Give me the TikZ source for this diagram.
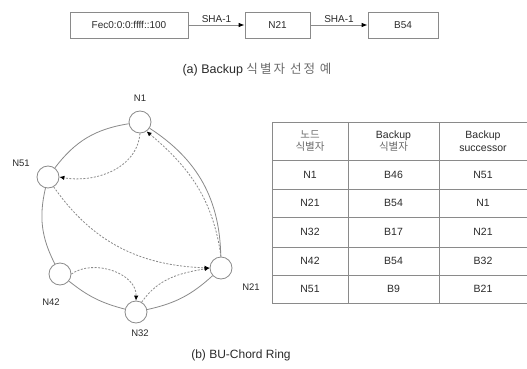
\documentclass[tikz,border=0pt]{standalone}
\usepackage{fontspec}
\setmainfont{Liberation Sans}
\newfontfamily\krfont{Noto Sans CJK KR}
\newcommand{\kr}[1]{{\krfont\color{krc}#1}}
\usetikzlibrary{arrows.meta}
\definecolor{txt}{HTML}{2A2A2A}
\definecolor{krc}{HTML}{6A6A6A}
\definecolor{ln}{HTML}{8A8A8A}
\tikzset{
  every node/.style={text=txt, font=\fontsize{10}{12}\selectfont},
  hbox/.style={draw=ln, line width=0.8pt, minimum height=26pt, inner sep=0pt},
  ringnode/.style={circle, draw=ln, line width=0.8pt, minimum size=22pt, inner sep=0pt},
  ringlabel/.style={font=\fontsize{9.5}{11}\selectfont},
  ringarc/.style={draw=ln, line width=0.8pt},
  succ/.style={draw=ln, line width=0.8pt, dash pattern=on 2pt off 1.5pt, -{Latex[length=5pt,width=4.5pt,color=black]}},
  harrow/.style={draw=ln, line width=0.8pt, -{Latex[length=6pt,width=4.5pt,color=black]}},
  tline/.style={draw=ln, line width=1pt},
  cell/.style={align=center, font=\fontsize{10.5}{12.5}\selectfont},
  caption/.style={font=\fontsize{12}{14}\selectfont}
}
\begin{document}
\begin{tikzpicture}[x=1pt,y=1pt]
\useasboundingbox (0,0) rectangle (527,-369);
% (a) top chain
\node[hbox, minimum width=118pt] (ip) at (129,-25) {Fec0:0:0:ffff::100};
\node[hbox, minimum width=65pt] (n21b) at (277.5,-25) {N21};
\node[hbox, minimum width=70pt] (b54) at (403,-25) {B54};
\draw[harrow] (ip) -- node[above=-1pt] {SHA-1} (n21b);
\draw[harrow] (n21b) -- node[above=-1pt] {SHA-1} (b54);
\node[caption, font=\fontsize{12.5}{14}\selectfont] (capa) at (257,-70) {(a) Backup \kr{식\,별\,자\, 선\,정\, 예}};
% (b) ring
\node[ringnode] (n1) at (140,-122) {};
\node[ringnode] (n51) at (48,-177) {};
\node[ringnode] (n42) at (60,-274) {};
\node[ringnode] (n32) at (136,-312) {};
\node[ringnode] (n21) at (221,-268) {};
\node[ringlabel] (l1) at (140,-98) {N1};
\node[ringlabel] (l51) at (21,-163) {N51};
\node[ringlabel] (l42) at (51,-302) {N42};
\node[ringlabel] (l32) at (140,-333) {N32};
\node[ringlabel] (l21) at (251,-287) {N21};
\draw[ringarc] (n1) to[bend right=22] (n51);
\draw[ringarc] (n51) to[bend right=20] (n42);
\draw[ringarc] (n42) to[bend right=12] (n32);
\draw[ringarc] (n32) to[bend right=15] (n21);
\draw[ringarc] (n21) to[bend right=28] (n1);
\draw[succ] (n1.south) to[out=-95,in=-10] (n51.east);
\draw[succ] (n21.north) to[out=98,in=-40] (n1.-55);
\draw[succ] (n51.-60) to[out=-55,in=178] (n21.west);
\draw[succ] (n42.east) to[out=35,in=88] (n32.north);
\draw[succ] (n32.60) to[out=55,in=190] (n21.west);
\node[caption] (capb) at (241,-355) {(b) BU-Chord Ring};
% table
\draw[tline] (272,-122) -- (527,-122);
\draw[tline] (272,-160) -- (527,-160);
\draw[tline] (272,-189) -- (527,-189);
\draw[tline] (272,-217) -- (527,-217);
\draw[tline] (272,-247) -- (527,-247);
\draw[tline] (272,-275) -- (527,-275);
\draw[tline] (272,-303) -- (527,-303);
\draw[tline] (272,-122) -- (272,-303);
\draw[tline] (348,-122) -- (348,-303);
\draw[tline] (439,-122) -- (439,-303);
\node[cell] (h1) at (310,-141) {\kr{노드}\\\kr{식별자}};
\node[cell] (h2) at (393.5,-141) {Backup\\\kr{식별자}};
\node[cell] (h3) at (483,-141) {Backup\\successor};
\node[cell] (r11) at (310,-174.5) {N1};
\node[cell] (r12) at (393.5,-174.5) {B46};
\node[cell] (r13) at (483,-174.5) {N51};
\node[cell] (r21) at (310,-203) {N21};
\node[cell] (r22) at (393.5,-203) {B54};
\node[cell] (r23) at (483,-203) {N1};
\node[cell] (r31) at (310,-232) {N32};
\node[cell] (r32) at (393.5,-232) {B17};
\node[cell] (r33) at (483,-232) {N21};
\node[cell] (r41) at (310,-261) {N42};
\node[cell] (r42) at (393.5,-261) {B54};
\node[cell] (r43) at (483,-261) {B32};
\node[cell] (r51) at (310,-289) {N51};
\node[cell] (r52) at (393.5,-289) {B9};
\node[cell] (r53) at (483,-289) {B21};
\end{tikzpicture}
\end{document}
